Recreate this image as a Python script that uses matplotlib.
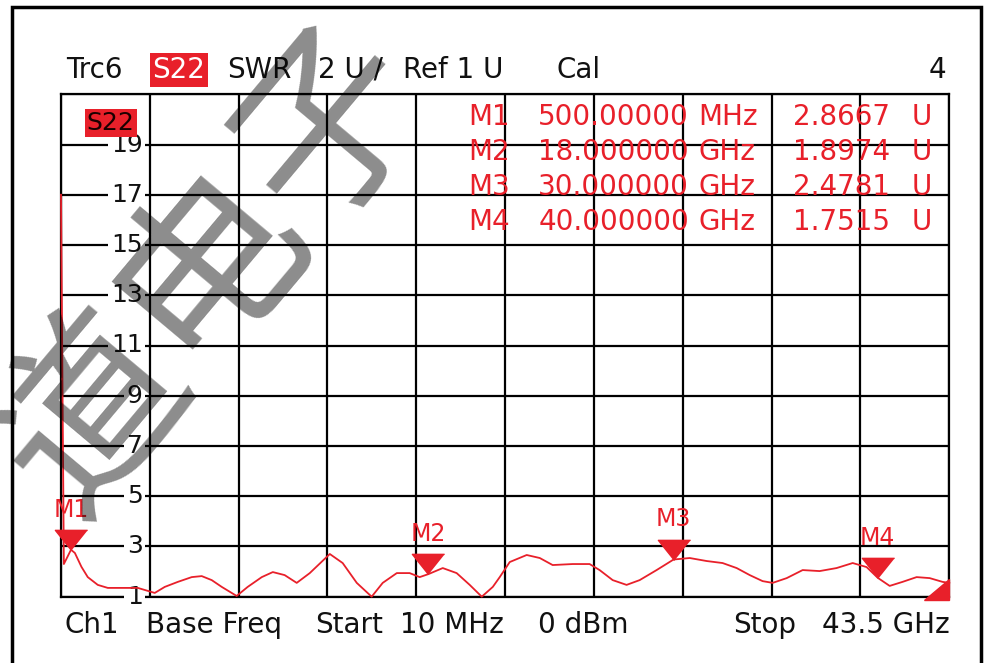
import numpy as np
import matplotlib.pyplot as plt
from matplotlib.patches import Rectangle, Polygon
import matplotlib.transforms as mtransforms

# S22 SWR trace (frequency in GHz, SWR in U)
freq = [0.01, 0.15, 0.5, 0.69, 1.01, 1.32, 1.81, 2.30, 2.99, 3.77, 4.60, 5.09,
        5.73, 6.41, 6.90, 7.39, 7.88, 8.61, 9.15, 9.84, 10.38, 10.96, 11.55,
        12.19, 13.17, 13.80, 14.49, 15.22, 15.76, 16.45, 17.08, 17.57, 18.0,
        18.70, 19.38, 20.02, 20.61, 21.15, 21.49, 21.98, 22.81, 23.45, 24.08,
        25.06, 25.89, 26.38, 27.02, 27.70, 28.34, 29.17, 30.0, 30.79, 31.62,
        32.40, 33.09, 33.73, 34.36, 34.85, 35.54, 36.32, 37.15, 37.98, 38.77,
        39.45, 40.0, 40.58, 41.21, 41.90, 42.54, 43.17, 43.5]
swr = [17.0, 2.3, 2.87, 2.74, 2.19, 1.78, 1.47, 1.35, 1.35, 1.35, 1.15, 1.39,
       1.59, 1.78, 1.82, 1.66, 1.39, 1.03, 1.39, 1.78, 1.98, 1.86, 1.55,
       1.94, 2.70, 2.34, 1.55, 1.0, 1.55, 1.94, 1.94, 1.78, 1.90,
       2.14, 1.94, 1.47, 1.0, 1.39, 1.78, 2.38, 2.66, 2.54, 2.26,
       2.30, 2.30, 2.06, 1.66, 1.47, 1.66, 2.06, 2.48, 2.54, 2.42,
       2.34, 2.14, 1.86, 1.62, 1.55, 1.74, 2.06, 2.02, 2.14, 2.34,
       2.18, 1.75, 1.43, 1.59, 1.78, 1.74, 1.59, 1.55]

marker_names = ['M1', 'M2', 'M3', 'M4']
marker_freq = [0.5, 18.0, 30.0, 40.0]
marker_swr = [2.8667, 1.8974, 2.4781, 1.7515]
marker_freq_text = ['500.00000', '18.000000', '30.000000', '40.000000']
marker_unit = ['MHz', 'GHz', 'GHz', 'GHz']
y_labels = [1, 3, 5, 7, 9, 11, 13, 15, 17, 19]

RED = '#e8202a'
INK = '#111111'
W, H = 986, 663


def fx(x):
    return x / W


def fy(y):
    return 1 - y / H


plt.rcParams['font.family'] = ['DejaVu Sans']
fig = plt.figure(figsize=(9.86, 6.63), dpi=100)
fig.patch.set_facecolor('white')

ax = fig.add_axes([fx(61), fy(596.7), fx(888.3), 502.4 / H])
ax.set_xlim(0.01, 43.5)
ax.set_ylim(1, 21)
ax.set_xticks(np.linspace(0.01, 43.5, 11))
ax.set_yticks(range(1, 22, 2))
ax.grid(True, color='black', lw=1.6, zorder=1)
ax.set_axisbelow(True)
ax.tick_params(length=0, labelbottom=False, labelleft=False)
for s in ax.spines.values():
    s.set_linewidth(1.6)

# y labels sit inside the first column
trans = mtransforms.blended_transform_factory(ax.transAxes, ax.transData)
for v in y_labels:
    ax.text(0.092, v, str(v), transform=trans, ha='right', va='center',
            fontsize=18, color=INK, zorder=3,
            bbox=dict(fc='white', ec='none', pad=2))

ax.text(0.056, 0.943, 'S22', transform=ax.transAxes, ha='center', va='center',
        fontsize=18, color='#1a0000', zorder=6,
        bbox=dict(fc=RED, ec='none', pad=1.5))

# trace
ax.plot(freq, swr, color=RED, lw=1.3, zorder=5, clip_on=False)

# markers: downward triangle with tip on the trace
tri = [(0, 0), (-0.8, 1), (0.8, 1)]
ax.plot(marker_freq, marker_swr, linestyle='none', marker=tri, markersize=29,
        color=RED, zorder=6, clip_on=False)
for name, f, v in zip(marker_names, marker_freq, marker_swr):
    ax.annotate(name, (f, v), xytext=(0, 29), textcoords='offset points',
                ha='center', va='center', color=RED, fontsize=17, zorder=6)

# stop indicator
ax.add_patch(Polygon([(0.972, -0.007), (1.0, -0.007), (1.0, 0.035)],
                     closed=True, transform=ax.transAxes, color=RED,
                     clip_on=False, zorder=6))

# marker table
for i in range(4):
    y = fy(117 + 35 * i)
    fig.text(fx(468), y, marker_names[i], ha='left', va='center', fontsize=20, color=RED)
    fig.text(fx(689), y, marker_freq_text[i], ha='right', va='center', fontsize=20, color=RED)
    fig.text(fx(698), y, marker_unit[i], ha='left', va='center', fontsize=20, color=RED)
    fig.text(fx(890), y, '%.4f' % marker_swr[i], ha='right', va='center', fontsize=20, color=RED)
    fig.text(fx(912), y, 'U', ha='left', va='center', fontsize=20, color=RED)

# header
hy = fy(70)
fig.text(fx(66), hy, 'Trc6', ha='left', va='center', fontsize=20, color=INK)
fig.text(fx(179), hy, 'S22', ha='center', va='center', fontsize=20, color='white',
         bbox=dict(fc=RED, ec='none', pad=2))
fig.text(fx(227), hy, 'SWR', ha='left', va='center', fontsize=20, color=INK)
fig.text(fx(318), hy, '2 U /', ha='left', va='center', fontsize=20, color=INK)
fig.text(fx(403), hy, 'Ref 1 U', ha='left', va='center', fontsize=20, color=INK)
fig.text(fx(557), hy, 'Cal', ha='left', va='center', fontsize=20, color=INK)
fig.text(fx(946), hy, '4', ha='right', va='center', fontsize=20, color=INK)

# footer
by = fy(625)
fig.text(fx(65), by, 'Ch1', ha='left', va='center', fontsize=20, color=INK)
fig.text(fx(146), by, 'Base Freq', ha='left', va='center', fontsize=20, color=INK)
fig.text(fx(315), by, 'Start', ha='left', va='center', fontsize=20, color=INK)
fig.text(fx(400), by, '10 MHz', ha='left', va='center', fontsize=20, color=INK)
fig.text(fx(538), by, '0 dBm', ha='left', va='center', fontsize=20, color=INK)
fig.text(fx(733), by, 'Stop', ha='left', va='center', fontsize=20, color=INK)
fig.text(fx(950), by, '43.5 GHz', ha='right', va='center', fontsize=20, color=INK)

# outer frame
fig.patches.append(Rectangle((fx(12), -0.05), fx(981 - 12), fy(7) + 0.05,
                             transform=fig.transFigure, fill=False,
                             ec='black', lw=2.5))

# watermark
fig.text(fx(213), fy(270), '道电子', rotation=50, rotation_mode='anchor',
         ha='center', va='center', fontsize=135, color='black', alpha=0.45,
         family=['Noto Sans CJK SC'], weight='normal', zorder=20)

fig.savefig('out.png', dpi=100)
